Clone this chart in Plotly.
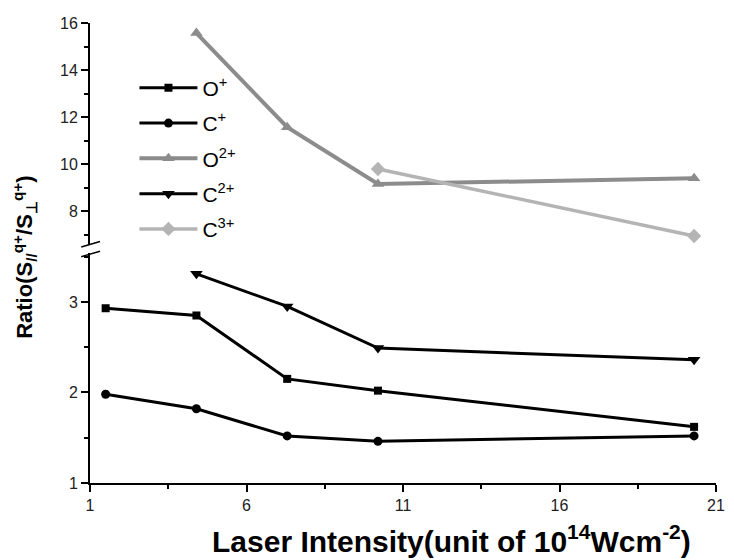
import plotly.graph_objects as go

# ---- data ----
o1_x = [1.5, 4.4, 7.3, 10.2, 20.3]
o1_y = [2.93, 2.85, 2.15, 2.02, 1.62]

c1_x = [1.5, 4.4, 7.3, 10.2, 20.3]
c1_y = [1.98, 1.82, 1.52, 1.46, 1.52]

o2_x = [4.4, 7.3, 10.2, 20.3]
o2_y = [15.57, 11.57, 9.15, 9.40]

c2_x = [4.4, 7.3, 10.2, 20.3]
c2_y = [3.31, 2.95, 2.49, 2.36]

c3_x = [10.2, 20.3]
c3_y = [9.79, 6.94]

x_ticks = [1, 6, 11, 16, 21]
low_ticks = [1, 2, 3]
up_ticks = [8, 10, 12, 14, 16]

FONT = "Arial, Liberation Sans, Helvetica, sans-serif"
BLACK = "#000000"
GRAY = "#8c8c8c"
LGRAY = "#b4b4b4"

fig = go.Figure()

def add(x, y, name, color, symbol, size, width, axis, group):
    fig.add_trace(go.Scatter(
        x=x, y=y, name=name, mode="lines+markers", yaxis=axis,
        line=dict(color=color, width=width),
        marker=dict(symbol=symbol, size=size, color=color),
        legendgroup=group,
    ))

add(o1_x, o1_y, "O<sup>+</sup>", BLACK, "square", 8, 3, "y", "a")
add(c1_x, c1_y, "C<sup>+</sup>", BLACK, "circle", 9, 3, "y", "b")
add(o2_x, o2_y, "O<sup>2+</sup>", GRAY, "triangle-up", 11, 4, "y2", "c")
add(c2_x, c2_y, "C<sup>2+</sup>", BLACK, "triangle-down", 11, 3, "y", "d")
add(c3_x, c3_y, "C<sup>3+</sup>", LGRAY, "diamond", 11, 3.5, "y2", "e")

axis_common = dict(
    showline=True, linecolor="black", linewidth=2,
    ticks="outside", ticklen=7, tickwidth=2, tickcolor="black",
    showgrid=False, zeroline=False,
    tickfont=dict(family=FONT, size=16, color="#222"),
)

fig.update_layout(
    width=734, height=560,
    margin=dict(l=90, r=9, t=23, b=77),
    paper_bgcolor="white", plot_bgcolor="white",
    showlegend=True,
    legend=dict(
        x=0.071, y=0.903, xanchor="left", yanchor="top",
        bgcolor="rgba(0,0,0,0)",
        font=dict(family=FONT, size=21, color="black"),
        itemwidth=58, tracegroupgap=5,
    ),
    xaxis=dict(
        range=[1, 21], tickvals=x_ticks, anchor="y",
        minor=dict(dtick=2.5, tick0=1, ticks="outside", ticklen=4, tickwidth=1.5, tickcolor="black"),
        **axis_common,
    ),
    yaxis=dict(
        domain=[0, 0.5], range=[1, 3.54], tickvals=low_ticks, anchor="x",
        minor=dict(dtick=0.5, tick0=1, ticks="outside", ticklen=4, tickwidth=1.5, tickcolor="black"),
        **axis_common,
    ),
    yaxis2=dict(
        domain=[0.517, 1], range=[6.55, 16], tickvals=up_ticks, anchor="x",
        minor=dict(dtick=1, tick0=6, ticks="outside", ticklen=4, tickwidth=1.5, tickcolor="black"),
        **axis_common,
    ),
)

# axis break marks
for yp in [0.498, 0.519]:
    fig.add_shape(type="line", xref="paper", yref="paper",
                  x0=-0.014, x1=0.016, y0=yp - 0.006, y1=yp + 0.006,
                  line=dict(color="black", width=1.5))

fig.add_annotation(
    text="<b>Ratio(S<sub>//</sub><sup>q+</sup>/S<sub>⊥</sub><sup>q+</sup>)</b>",
    xref="paper", yref="paper", x=-0.105, y=0.49, textangle=-90,
    showarrow=False, font=dict(family=FONT, size=22, color="black"),
    xanchor="center", yanchor="middle",
)
fig.add_annotation(
    text="<b>Laser Intensity(unit of 10<sup>14</sup>Wcm<sup>-2</sup>)</b>",
    xref="paper", yref="paper", x=0.578, y=-0.122,
    showarrow=False, font=dict(family=FONT, size=30, color="black"),
    xanchor="center", yanchor="middle",
)

fig.write_html("out.html", post_script="document.body.style.margin='0';",
               config={"displayModeBar": False})
